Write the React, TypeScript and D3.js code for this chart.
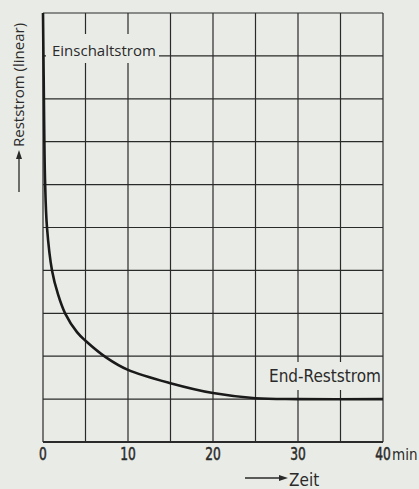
import React from "react";
import * as d3 from "d3";

const timeTicks = [0, 5, 10, 15, 20, 25, 30, 35, 40];
const timeLabels = [
  { t: 0, label: "0" },
  { t: 10, label: "10" },
  { t: 20, label: "20" },
  { t: 30, label: "30" },
  { t: 40, label: "40" },
];
const levelTicks = [0, 1, 2, 3, 4, 5, 6, 7, 8, 9, 10];
const curveT = [0, 0.08, 0.24, 0.47, 1.06, 1.77, 2.6, 4.0, 5, 7.5, 10, 15, 20, 25, 30, 40];
const curveV = [10, 8.5, 6.1, 5.0, 4.0, 3.44, 3.0, 2.56, 2.36, 1.96, 1.68, 1.37, 1.14, 1.02, 1.0, 1.0];

const W = 419;
const H = 489;
const ink = "#2a2a2a";
const bg = "#e9ece6";
const narrow = "'DejaVu Sans Condensed', 'DejaVu Sans', sans-serif";
const humanist = "'Open Sans', 'Noto Sans', sans-serif";

export default function App() {
  const x = d3.scaleLinear().domain([0, 40]).range([43, 383]);
  const y = d3.scaleLinear().domain([0, 10]).range([442, 13]);
  const pts: [number, number][] = curveT.map((t, i) => [t, curveV[i]]);
  const line = d3
    .line<[number, number]>()
    .x((d) => x(d[0]))
    .y((d) => y(d[1]))
    .curve(d3.curveCatmullRom.alpha(0.5));

  return (
    <svg
      width={W}
      height={H}
      style={{ position: "absolute", left: 0, top: 0, background: bg }}
    >
      <rect x={0} y={0} width={W} height={H} fill={bg} />
      {/* grid */}
      {timeTicks.map((t) => (
        <line key={"v" + t} x1={x(t)} x2={x(t)} y1={y(10)} y2={y(0)} stroke={ink} strokeWidth={1.2} />
      ))}
      {levelTicks.map((v) => (
        <line
          key={"h" + v}
          x1={x(0)}
          x2={x(40)}
          y1={y(v)}
          y2={y(v)}
          stroke={ink}
          strokeWidth={v === 0 ? 2.2 : 1.2}
        />
      ))}
      {/* label backgrounds */}
      <rect x={46} y={34} width={113} height={29} fill={bg} />
      <rect x={266} y={362} width={114} height={28} fill={bg} />
      {/* curve */}
      <path d={line(pts) || ""} fill="none" stroke="#1a1a1a" strokeWidth={2.6} />
      {/* annotations */}
      <text x={52} y={56} fontFamily={humanist} fontSize={15} fill={ink}>
        Einschaltstrom
      </text>
      <text x={269} y={382} fontFamily={narrow} fontSize={17} fill={ink}>
        End-Reststrom
      </text>
      {/* x tick labels */}
      {timeLabels.map((d) => (
        <text
          key={"l" + d.t}
          transform={`translate(${x(d.t)},460) scale(0.8,1)`}
          textAnchor="middle"
          fontFamily={narrow}
          fontSize={17}
          fill={ink}
          stroke={ink}
          strokeWidth={0.5}
        >
          {d.label}
        </text>
      ))}
      <text x={x(40) + 9} y={460} fontFamily={narrow} fontSize={15} fill={ink}>
        min
      </text>
      {/* x axis title */}
      <line x1={245} x2={281} y1={478} y2={478} stroke={ink} strokeWidth={1.3} />
      <path d="M279,475 L288,478 L279,481 Z" fill={ink} />
      <text x={289} y={486} fontFamily={narrow} fontSize={17} fill={ink}>
        Zeit
      </text>
      {/* y axis title */}
      <line x1={19} x2={19} y1={192} y2={157} stroke={ink} strokeWidth={1.3} />
      <path d="M16,159 L19,150 L22,159 Z" fill={ink} />
      <text
        transform="translate(24,147) rotate(-90)"
        fontFamily={humanist}
        fontSize={15}
        fill={ink}
      >
        Reststrom (linear)
      </text>
    </svg>
  );
}
